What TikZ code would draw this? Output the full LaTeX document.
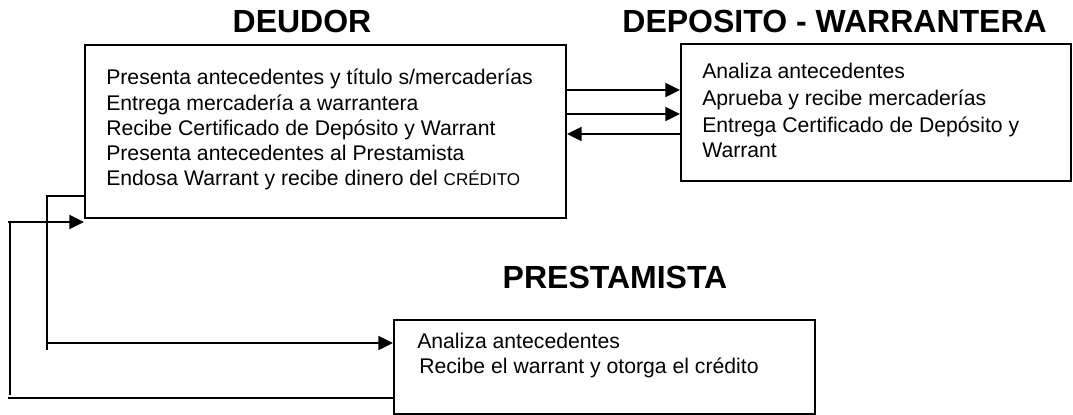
\documentclass[tikz,border=0pt]{standalone}
\usepackage{fontspec}
\setmainfont{Liberation Sans}
\usetikzlibrary{arrows.meta}
\begin{document}
\begin{tikzpicture}[x=0.75pt,y=-0.75pt,
  box/.style={draw=black,line width=1.5pt,rectangle,inner sep=0pt,anchor=north west},
  title/.style={font=\bfseries\fontsize{24}{28}\selectfont,inner sep=0pt},
  txt/.style={font=\fontsize{15.9}{18}\selectfont,inner sep=0pt,anchor=base west},
  conn/.style={line width=1.5pt},
  arr/.style={line width=1.5pt,-{Triangle[length=11pt,width=10.5pt]}}]
\useasboundingbox (0,0) rectangle (1073,414);

% boxes
\node[box,minimum width=481*0.75pt,minimum height=173*0.75pt] (deudor) at (84,44) {};
\node[box,minimum width=390*0.75pt,minimum height=137*0.75pt] (dep) at (680,43) {};
\node[box,minimum width=421*0.75pt,minimum height=94*0.75pt] (presta) at (393,319) {};

% titles
\node[title,anchor=base] (tdeudor) at (302,32) {DEUDOR};
\node[title,anchor=base east] (tdep) at (1047,32) {DEPOSITO - WARRANTERA};
\node[title,anchor=base] (tpresta) at (615,288) {PRESTAMISTA};

% deudor texts
\node[txt] (d1) at (106,84) {Presenta antecedentes y título s/mercaderías};
\node[txt] (d2) at (106,110) {Entrega mercadería a warrantera};
\node[txt] (d3) at (106,135) {Recibe Certificado de Depósito y Warrant};
\node[txt] (d4) at (106,160) {Presenta antecedentes al Prestamista};
\node[txt] (d5) at (106,185) {Endosa Warrant y recibe dinero del {\fontsize{12.8}{15}\selectfont CRÉDITO}};

% deposito texts
\node[txt] (w1) at (702,78) {Analiza antecedentes};
\node[txt] (w2) at (702,105) {Aprueba y recibe mercaderías};
\node[txt] (w3) at (702,132) {Entrega Certificado de Depósito y};
\node[txt] (w4) at (702,157) {Warrant};

% prestamista texts
\node[txt] (p1) at (417,348) {Analiza antecedentes};
\node[txt] (p2) at (419,373) {Recibe el warrant y otorga el crédito};

% arrows between deudor and deposito
\draw[arr] (deudor.east |- 0,90) -- (dep.west |- 0,90);
\draw[arr] (deudor.east |- 0,114) -- (dep.west |- 0,114);
\draw[arr] (dep.west |- 0,134) -- (deudor.east |- 0,134);

% left connectors
\coordinate (a1) at (47,196);
\coordinate (a2) at (47,350);
\coordinate (a3) at (47,343);
\draw[conn] (deudor.west |- a1) -- (a1) -- (a2);
\draw[arr] (a3) -- (presta.west |- a3);

\coordinate (b1) at (8,222);
\coordinate (b2) at (10,222);
\coordinate (b3) at (10,395);
\coordinate (b4) at (8,398);
\draw[arr] (b1) -- (deudor.west |- b1);
\draw[conn] (b2) -- (b3);
\draw[conn] (b4) -- (presta.west |- b4);
\end{tikzpicture}
\end{document}
